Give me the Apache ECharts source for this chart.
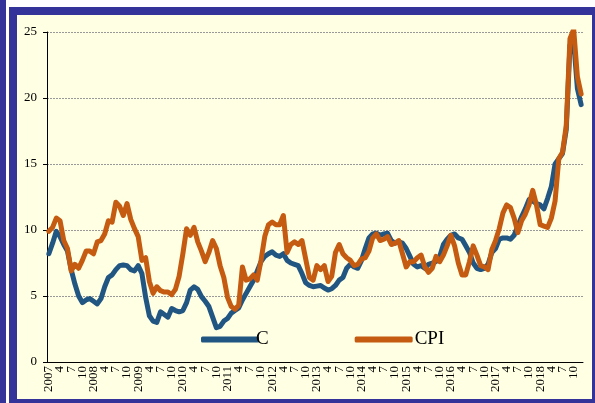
<!DOCTYPE html>
<html>
<head>
<meta charset="utf-8">
<script src="https://cdn.jsdelivr.net/npm/echarts@6/dist/echarts.min.js"></script>
<style>
  body { margin: 0; background: #fff; }
  #wrap { position: relative; width: 595px; height: 403px; overflow: hidden; background: #fff; }
  .stripe { position: absolute; left: 0; top: 0; width: 6px; height: 403px; background: #333399; }
  .frame { position: absolute; left: 9px; top: 7px; right: 0; bottom: 0; background: #333399; }
  .paper { position: absolute; left: 17px; top: 15px; width: 575px; height: 384px; background: #ffffe3; }
  #chart { position: absolute; left: 0; top: 0; width: 595px; height: 403px; }
</style>
</head>
<body>
<div id="wrap">
  <div class="stripe"></div>
  <div class="frame"></div>
  <div class="paper"></div>
  <div id="chart"></div>
</div>
<script>
// years on the x axis, one category per month
var years = [2007, 2008, 2009, 2010, 2011, 2012, 2013, 2014, 2015, 2016, 2017, 2018];
var yTicks = [0, 5, 10, 15, 20, 25];

// C (blue), monthly, 2007-01 .. 2018-12
var cData = [
  8.2, 9.0, 9.9, 9.5, 8.9, 8.4, 7.0, 5.9, 5.0, 4.5, 4.7, 4.8,
  4.6, 4.4, 4.8, 5.7, 6.4, 6.6, 7.0, 7.3, 7.35, 7.3, 7.0, 6.9,
  7.3, 6.7, 4.9, 3.5, 3.1, 3.0, 3.8, 3.6, 3.4, 4.05, 3.9, 3.8,
  3.9, 4.5, 5.45, 5.7, 5.5, 4.95, 4.6, 4.2, 3.4, 2.6, 2.7, 3.1,
  3.3, 3.7, 3.9, 4.1, 4.7, 5.2, 5.7, 6.2, 6.9, 7.6, 8.0, 8.2,
  8.35, 8.1, 8.0, 8.2, 7.7, 7.5, 7.4, 7.3, 6.7, 6.0, 5.8, 5.7,
  5.75, 5.8, 5.6, 5.45, 5.55, 5.8, 6.2, 6.4, 7.1, 7.4, 7.2, 7.1,
  7.7, 8.6, 9.4, 9.7, 9.75, 9.6, 9.7, 9.75, 9.2, 9.0, 9.1, 9.0,
  8.6, 8.0, 7.4, 7.2, 7.3, 7.1, 7.4, 7.5, 7.6, 8.0, 8.9, 9.3,
  9.6, 9.7, 9.4, 9.3, 8.8, 8.3, 7.5, 7.1, 7.0, 7.1, 7.4, 8.3,
  8.6, 9.3, 9.4, 9.4, 9.3, 9.6, 10.3, 11.0, 11.6, 12.3, 12.2, 12.0,
  11.9, 11.6, 12.4, 13.3, 15.0, 15.4, 15.8, 17.6, 24.0, 24.3, 20.7, 19.5
];

// CPI (orange), monthly, 2007-01 .. 2018-12
var cpiData = [
  9.9, 10.2, 10.9, 10.7, 9.2, 8.6, 6.9, 7.4, 7.1, 7.7, 8.4, 8.4,
  8.2, 9.1, 9.2, 9.7, 10.7, 10.6, 12.1, 11.8, 11.1, 12.0, 10.8, 10.1,
  9.5, 7.7, 7.9, 6.1, 5.2, 5.7, 5.4, 5.3, 5.3, 5.1, 5.5, 6.5,
  8.2, 10.1, 9.6, 10.2, 9.1, 8.4, 7.6, 8.3, 9.2, 8.6, 7.3, 6.4,
  4.9, 4.2, 4.0, 4.3, 7.2, 6.2, 6.3, 6.6, 6.2, 7.7, 9.5, 10.4,
  10.6, 10.4, 10.4, 11.1, 8.3, 8.9, 9.1, 8.9, 9.2, 7.8, 6.4, 6.2,
  7.3, 7.0, 7.3, 6.1, 6.5, 8.3, 8.9, 8.2, 7.9, 7.7, 7.3, 7.4,
  7.8, 7.9, 8.4, 9.4, 9.7, 9.2, 9.3, 9.5, 8.9, 9.0, 9.2, 8.2,
  7.2, 7.6, 7.6, 7.9, 8.1, 7.2, 6.8, 7.1, 8.0, 7.6, 8.1, 8.8,
  9.6, 8.8, 7.5, 6.6, 6.6, 7.6, 8.8, 8.1, 7.3, 7.2, 7.0, 8.5,
  9.2, 10.1, 11.3, 11.9, 11.7, 10.9, 9.8, 10.7, 11.2, 11.9, 13.0, 11.9,
  10.4, 10.3, 10.2, 10.9, 12.2, 15.4, 15.9, 17.9, 24.5, 25.2, 21.6, 20.3
];

var categories = [];
years.forEach(function (y) {
  for (var m = 1; m <= 12; m++) {
    categories.push(y + "-" + m);
  }
});

var serif = "'Liberation Serif', 'DejaVu Serif', serif";
var chart = echarts.init(document.getElementById("chart"));
var option = {
  backgroundColor: "transparent",
  animation: false,
  grid: { left: 47, right: 12, top: 32, bottom: 41, containLabel: false },
  legend: {
    left: 196,
    top: 325,
    icon: "roundRect",
    itemWidth: 58,
    itemHeight: 6,
    itemGap: 86,
    textStyle: { fontFamily: serif, fontSize: 19, color: "#000", padding: [0, 0, 0, -8] },
    data: [
      { name: "C" },
      { name: "CPI", textStyle: { padding: [0, 0, 0, -3] } }
    ]
  },
  xAxis: {
    type: "category",
    data: categories,
    boundaryGap: true,
    axisLine: { lineStyle: { color: "#000", width: 1 } },
    axisTick: { interval: 0, length: 3, lineStyle: { color: "#000" } },
    axisLabel: {
      interval: 0,
      showMinLabel: true,
      showMaxLabel: true,
      rotate: 90,
      margin: 4,
      fontFamily: serif,
      fontSize: 13,
      color: "#000",
      formatter: function (v, i) {
        if (i % 3 !== 0) return "";
        var p = v.split("-");
        return p[1] === "1" ? p[0] : p[1];
      }
    },
    splitLine: { show: false }
  },
  yAxis: {
    type: "value",
    min: yTicks[0],
    max: yTicks[yTicks.length - 1],
    interval: 5,
    axisLine: { show: true, lineStyle: { color: "#000", width: 1 } },
    axisTick: { show: true, length: 4, lineStyle: { color: "#000" } },
    axisLabel: { fontFamily: serif, fontSize: 13, color: "#000", margin: 10 },
    splitLine: { lineStyle: { color: "#999", type: [2, 1], width: 1 } }
  },
  series: [
    {
      name: "C",
      type: "line",
      data: cData,
      symbol: "none",
      itemStyle: { color: "#215582" },
      lineStyle: { width: 5, color: "#215582", cap: "round", join: "round" }
    },
    {
      name: "CPI",
      type: "line",
      data: cpiData,
      symbol: "none",
      itemStyle: { color: "#c55a11" },
      lineStyle: { width: 5, color: "#c55a11", cap: "round", join: "round" }
    }
  ]
};
chart.setOption(option);
window.addEventListener("resize", function () { chart.resize(); });
</script>
</body>
</html>
